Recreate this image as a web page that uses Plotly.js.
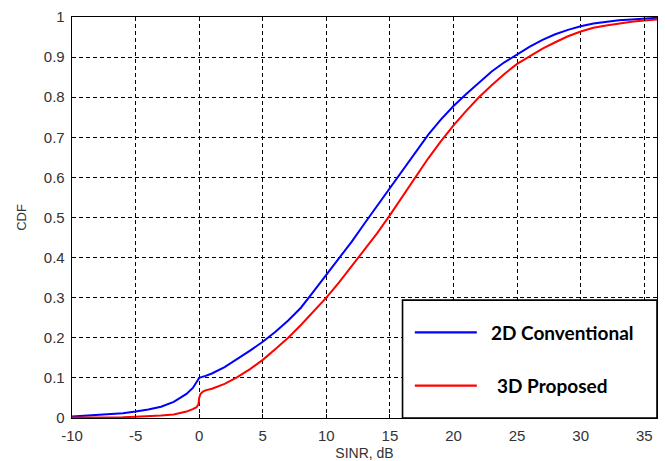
<!DOCTYPE html>
<html>
<head>
<meta charset="utf-8">
<script src="https://cdn.plot.ly/plotly-3.0.1.min.js"></script>
<style>html,body{margin:0;padding:0;background:#fff;}#chart{width:665px;height:461px;}</style>
</head>
<body>
<div id="chart"></div>
<script>
// ---- data ----
const seriesNames = ["2D Conventional", "3D Proposed"];
const sinrBlue = [-10, -8, -6, -5, -4, -3, -2, -1, -0.5, -0.2, 0, 0.5, 1, 2, 3, 4, 5, 6, 7, 8, 9, 10, 11, 12, 13, 14, 15, 16, 17, 18, 19, 20, 21, 22, 23, 24, 25, 26, 27, 28, 29, 30, 31, 32, 33, 34, 35, 36];
const cdfBlue  = [0.004, 0.008, 0.012, 0.016, 0.021, 0.028, 0.040, 0.060, 0.075, 0.090, 0.100, 0.105, 0.111, 0.127, 0.147, 0.168, 0.190, 0.215, 0.243, 0.275, 0.316, 0.357, 0.398, 0.440, 0.485, 0.529, 0.572, 0.617, 0.662, 0.706, 0.744, 0.778, 0.808, 0.837, 0.864, 0.887, 0.907, 0.926, 0.943, 0.957, 0.968, 0.977, 0.984, 0.988, 0.992, 0.994, 0.996, 0.998];
const sinrRed  = [-10, -8, -6, -5, -4, -3, -2, -1, -0.5, -0.2, -0.05, 0, 0.1, 0.3, 0.5, 1, 2, 3, 4, 5, 6, 7, 8, 9, 10, 11, 12, 13, 14, 15, 16, 17, 18, 19, 20, 21, 22, 23, 24, 25, 26, 27, 28, 29, 30, 31, 32, 33, 34, 35, 36];
const cdfRed   = [0.001, 0.001, 0.002, 0.003, 0.004, 0.006, 0.009, 0.016, 0.022, 0.027, 0.035, 0.050, 0.060, 0.066, 0.069, 0.073, 0.085, 0.102, 0.122, 0.145, 0.172, 0.200, 0.232, 0.265, 0.300, 0.338, 0.378, 0.419, 0.461, 0.506, 0.553, 0.600, 0.647, 0.690, 0.730, 0.766, 0.800, 0.830, 0.858, 0.883, 0.903, 0.921, 0.937, 0.952, 0.964, 0.973, 0.979, 0.984, 0.988, 0.991, 0.994];
const xTicks = [-10, -5, 0, 5, 10, 15, 20, 25, 30, 35];
const yTicks = [0, 0.1, 0.2, 0.3, 0.4, 0.5, 0.6, 0.7, 0.8, 0.9, 1];
const yTickText = ["0", "0.1", "0.2", "0.3", "0.4", "0.5", "0.6", "0.7", "0.8", "0.9", "1"];
const colors = ["#0000ff", "#ff0000"];

const traces = [
  {x: sinrBlue, y: cdfBlue, name: seriesNames[0], mode: "lines", line: {color: colors[0], width: 2}, showlegend: false},
  {x: sinrRed, y: cdfRed, name: seriesNames[1], mode: "lines", line: {color: colors[1], width: 2}, showlegend: false}
];

const tickFont = {family: "Liberation Sans, Arial, sans-serif", size: 15, color: "#333"};
const axisCommon = {
  showgrid: true, gridcolor: "#000", gridwidth: 1, griddash: "4px,3px",
  zeroline: false, showline: true, linecolor: "#000", linewidth: 1.3, mirror: "ticks",
  ticks: "inside", ticklen: 4, tickcolor: "#000", tickfont: tickFont
};

// legend box (drawn by hand to match the reference's legend style)
const lgX0 = 0.565, lgY1 = 0.294;
const rowsY = [0.2137, 0.0805];
const shapes = [
  {type: "rect", xref: "paper", yref: "paper", x0: lgX0, x1: 1, y0: 0, y1: lgY1, line: {color: "#000", width: 1.6}, fillcolor: "#fff", layer: "above"}
];
const annotations = [];
seriesNames.forEach((nm, i) => {
  shapes.push({type: "line", xref: "paper", yref: "paper", x0: 0.586, x1: 0.692, y0: rowsY[i], y1: rowsY[i], line: {color: colors[i], width: 2.2}, layer: "above"});
  annotations.push({xref: "paper", yref: "paper", x: i === 0 ? 0.7128 : 0.723, y: rowsY[i], xanchor: "left", yanchor: "middle", showarrow: false, text: "<b>" + nm + "</b>", font: {family: "Lato, Liberation Sans, sans-serif", size: 19, color: "#000"}});
});

const layout = {
  width: 665, height: 461,
  margin: {l: 72, r: 8, t: 17, b: 43},
  paper_bgcolor: "#fff", plot_bgcolor: "#fff",
  showlegend: false,
  xaxis: Object.assign({}, axisCommon, {
    range: [-10, 36], tickvals: xTicks, ticktext: xTicks.map(String), ticklabelstandoff: 4,
    title: {text: "SINR, dB", font: {family: "Liberation Sans, Arial, sans-serif", size: 14, color: "#333"}, standoff: 7}
  }),
  yaxis: Object.assign({}, axisCommon, {
    range: [0, 1], tickvals: yTicks, ticktext: yTickText, ticklabelstandoff: 3,
    title: {text: "CDF", font: {family: "Liberation Sans, Arial, sans-serif", size: 13, color: "#333"}, standoff: 14}
  }),
  shapes: shapes,
  annotations: annotations
};

Plotly.newPlot("chart", traces, layout, {displayModeBar: false, staticPlot: true});
</script>
</body>
</html>
